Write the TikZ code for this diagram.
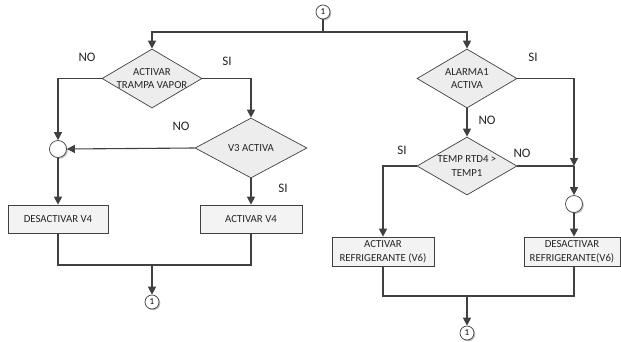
\documentclass[tikz,border=0pt]{standalone}
\usepackage{fontspec}
\setmainfont{Carlito}
\usetikzlibrary{shapes.geometric,arrows.meta,shadows}
\definecolor{ink}{HTML}{404040}
\definecolor{shapefill}{HTML}{EDEDED}
\definecolor{boxfill}{HTML}{F3F3F3}
\begin{document}
\begin{tikzpicture}[x=1pt,y=-1pt,
  flow/.style={draw=ink,line width=1.1pt},
  arr/.style={flow,-{Triangle[length=8pt,width=8pt]}},
  soft/.style={drop shadow={shadow xshift=1.3pt,shadow yshift=-1.3pt,fill=black,opacity=0.25}},
  decision/.style={diamond,draw=ink,line width=0.7pt,fill=shapefill,inner sep=0pt,
    minimum width=#1,minimum height=59pt},
  decision/.default=100pt,
  dtext/.style={align=center,inner sep=0pt,text=black!85,font=\fontsize{10.8}{13.5}\selectfont},
  action/.style={rectangle,draw=ink,line width=0.7pt,fill=boxfill,soft,inner sep=0pt,
    minimum width=#1,minimum height=28pt,align=center,text=black!85,
    font=\fontsize{10.8}{13.5}\selectfont},
  action/.default=100pt,
  joint/.style={circle,draw=ink,line width=0.7pt,fill=white,soft,minimum size=17pt,inner sep=0pt},
  link/.style={circle,draw=ink,line width=0.7pt,fill=white,soft,minimum size=14pt,inner sep=0pt,
    font=\fontsize{9}{9}\selectfont},
  answer/.style={text=black!85,font=\fontsize{13}{13}\selectfont,inner sep=0pt}
]
\useasboundingbox (0,0) rectangle (621,341);

% entry connector
\node[link] (top) at (323,12) {1};

% left branch: steam trap
\node[decision] (trap) at (152,78.5) {};
\node[dtext] at (trap) {ACTIVAR\\TRAMPA VAPOR};
\node[decision=112pt,minimum height=60pt] (v3) at (251,148) {};
\node[dtext] at (v3) {V3 ACTIVA};
\node[joint] (jl) at (58,149) {};
\node[action] (offv4) at (58,219) {DESACTIVAR V4};
\node[action=102pt] (onv4) at (251,219) {ACTIVAR V4};
\node[link] (endl) at (152,302) {1};

% right branch: alarm and coolant
\node[decision] (alarm) at (467,78.5) {};
\node[dtext] at (alarm) {ALARMA1\\ACTIVA};
\node[decision,minimum height=58pt] (temp) at (467,166) {};
\node[dtext] at (temp) {TEMP RTD4 >\\TEMP1};
\node[joint] (jr) at (574,204) {};
\node[action=102pt,minimum height=29pt] (oncool) at (383,251.5) {ACTIVAR\\REFRIGERANTE (V6)};
\node[action=96pt,minimum height=29pt] (offcool) at (572,251.5) {DESACTIVAR\\REFRIGERANTE(V6)};
\node[link] (endr) at (467,333) {1};

% split from the entry connector
\coordinate (split) at (323,32);
\draw[flow] (top.south) -- (split);
\draw[arr] (split) -| (trap.north);
\draw[arr] (split) -| (alarm.north);

% left branch flow
\draw[arr] (trap.west) -| (jl.north);
\draw[arr] (trap.east) -| (v3.north);
\draw[arr] (v3.west) -- (jl.east);
\draw[arr] (jl.south) -- (offv4.north);
\draw[arr] (v3.south) -- (onv4.north);
\coordinate (mergel) at (152,265);
\draw[flow] (offv4.south) |- (mergel) -| (onv4.south);
\draw[arr] (mergel) -- (endl.north);

% right branch flow
\coordinate (meet) at (574,166);
\draw[arr] (alarm.east) -| (meet);
\draw[flow] (temp.east) -- (meet);
\draw[arr] (meet) -- (jr.north);
\draw[arr] (alarm.south) -- (temp.north);
\draw[arr] (temp.west) -| (oncool.north);
\draw[arr] (jr.south) -- (jr.south |- offcool.north);
\coordinate (merger) at (467,296);
\draw[flow] (oncool.south) |- (merger) -| (offcool.south -| jr.south);
\draw[arr] (merger) -- (endr.north);

% branch answers
\node[answer] at (87,57) {NO};
\node[answer] at (227,61) {SI};
\node[answer] at (181,126) {NO};
\node[answer] at (283,188) {SI};
\node[answer] at (533,57) {SI};
\node[answer] at (487,120) {NO};
\node[answer] at (402,150) {SI};
\node[answer] at (522,153) {NO};
\end{tikzpicture}
\end{document}
